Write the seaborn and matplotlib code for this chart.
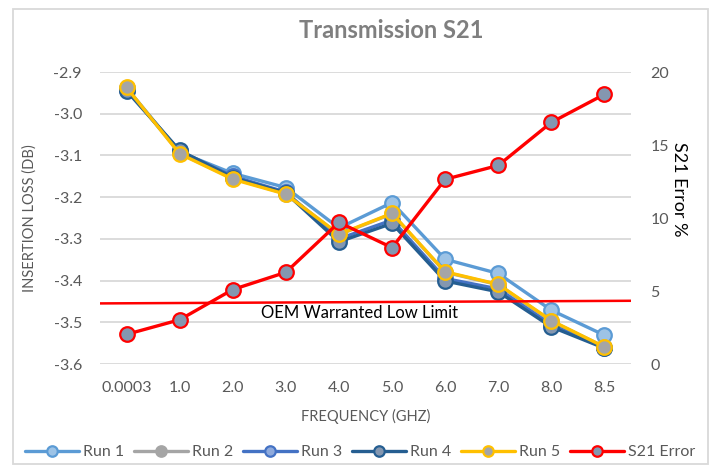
import numpy as np
import pandas as pd
import matplotlib
matplotlib.use('Agg')
import matplotlib.pyplot as plt
import seaborn as sns
from matplotlib.patches import Rectangle

# DATA
freq_labels = ['0.0003', '1.0', '2.0', '3.0', '4.0', '5.0', '6.0', '7.0', '8.0', '8.5']

run1 = [-2.938, -3.092, -3.143, -3.177, -3.274, -3.213, -3.349, -3.383, -3.471, -3.531]
run2 = [-2.938, -3.095, -3.155, -3.192, -3.290, -3.240, -3.380, -3.410, -3.497, -3.559]
run3 = [-2.942, -3.090, -3.150, -3.188, -3.300, -3.255, -3.395, -3.420, -3.506, -3.561]
run4 = [-2.945, -3.088, -3.153, -3.190, -3.307, -3.263, -3.401, -3.427, -3.511, -3.562]
run5 = [-2.937, -3.096, -3.157, -3.193, -3.289, -3.239, -3.379, -3.409, -3.496, -3.559]

s21_error = [2.03, 3.03, 5.1, 6.28, 9.7, 7.97, 12.65, 13.6, 16.55, 18.47]

# OEM warranted low limit (start / end value on the error axis)
oem_limit = [4.15, 4.33]
oem_label = 'OEM Warranted Low Limit'

series = [
    ('Run 1', run1, '#5B9BD5', '#9DC3E6'),
    ('Run 2', run2, '#A5A5A5', '#A5A5A5'),
    ('Run 3', run3, '#4472C4', '#8FAADC'),
    ('Run 4', run4, '#255E91', '#8497B0'),
    ('Run 5', run5, '#FFC000', '#A5A5A5'),
]

sns.set_style('white')
plt.rcParams['font.family'] = ['Lato', 'DejaVu Sans']

grey_txt = '#595959'

fig = plt.figure(figsize=(7.15, 4.71), dpi=100)
ax = fig.add_axes([100 / 715, 1 - 364 / 471, 531 / 715, 292 / 471])

x = np.arange(len(freq_labels))

for name, vals, line_c, face_c in series:
    sns.lineplot(
        x=x,
        y=vals,
        ax=ax,
        color=line_c,
        linewidth=2.4,
        marker='o',
        markersize=10.5,
        markerfacecolor=face_c,
        markeredgecolor=line_c,
        markeredgewidth=1.6,
        label=name
    )

ax.set_xlim(-0.5, len(freq_labels) - 0.5)
ax.set_ylim(-3.6, -2.9)
ax.set_yticks(np.round(np.arange(-3.6, -2.85, 0.1), 1))
ax.set_yticklabels([f'{v:.1f}' for v in np.arange(-3.6, -2.85, 0.1)])
ax.set_xticks(x)
ax.set_xticklabels(freq_labels)
ax.grid(axis='y', color='#D9D9D9', linewidth=1.3)
ax.grid(axis='x', visible=False)
for s in ax.spines.values():
    s.set_visible(False)
ax.tick_params(axis='both', length=0, labelsize=11.5, labelcolor=grey_txt)
ax.tick_params(axis='y', pad=13)
ax.tick_params(axis='x', pad=12)
ax.set_xlabel('FREQUENCY (GHZ)', fontsize=10.5, color=grey_txt, labelpad=10)
ax.set_ylabel('INSERTION LOSS (DB)', fontsize=10.5, color=grey_txt, labelpad=12)
ax.get_legend().remove()

# secondary axis: S21 error
ax2 = ax.twinx()
ax2.plot(
    [ax.get_xlim()[0], ax.get_xlim()[1]],
    oem_limit,
    color='#FF0000',
    linewidth=1.8
)
sns.lineplot(
    x=x,
    y=s21_error,
    ax=ax2,
    color='#FF0000',
    linewidth=2.4,
    marker='o',
    markersize=10.5,
    markerfacecolor='#8497B0',
    markeredgecolor='#FF0000',
    markeredgewidth=1.6,
    label='S21 Error'
)
ax2.set_ylim(0, 20)
ax2.set_yticks([0, 5, 10, 15, 20])
ax2.grid(False)
for s in ax2.spines.values():
    s.set_visible(False)
ax2.tick_params(axis='y', length=0, labelsize=11.5, labelcolor=grey_txt, pad=14)
ax2.set_ylabel('S21 Error %', fontsize=13, color='black', rotation=270, labelpad=22)
ax2.yaxis.set_label_coords(1.105, 0.6)
ax2.get_legend().remove()

ax2.text(
    4.38,
    np.mean(oem_limit) - 0.2,
    oem_label,
    ha='center',
    va='top',
    fontsize=12,
    color='black'
)

# title
fig.text(391 / 715, 1 - 30 / 471, 'Transmission S21',
         ha='center', va='center', fontsize=17, fontweight='bold', color='#7F7F7F')

# legend
h1, l1 = ax.get_legend_handles_labels()
h2, l2 = ax2.get_legend_handles_labels()
fig.legend(
    h1 + h2, l1 + l2,
    loc='center',
    bbox_to_anchor=(360 / 715, 1 - 452 / 471),
    ncol=6,
    frameon=False,
    fontsize=11.5,
    labelcolor=grey_txt,
    handlelength=3.4,
    handletextpad=0.25,
    columnspacing=0.6,
    markerscale=0.72
)

# chart border
fig.patches.append(Rectangle(
    (13 / 715, 1 - 464 / 471), 695 / 715, 455 / 471,
    transform=fig.transFigure, fill=False, edgecolor='#D9D9D9', linewidth=1.3
))

fig.savefig('out.png', dpi=100)
